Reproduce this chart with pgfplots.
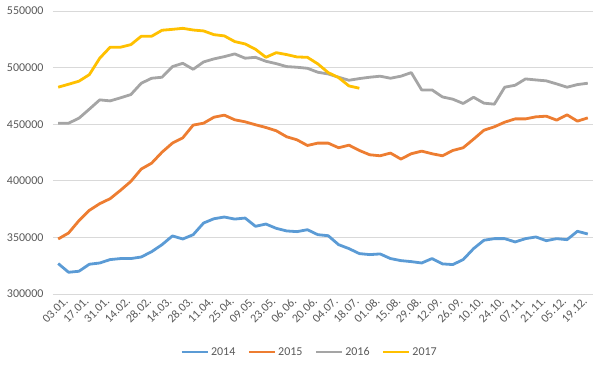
\documentclass[border=0pt]{standalone}
\usepackage{fontspec}
\setmainfont{Carlito}
\usepackage{pgfplots}
\pgfplotsset{compat=1.18}
\definecolor{c14}{HTML}{5B9BD5}
\definecolor{c15}{HTML}{ED7D31}
\definecolor{c16}{HTML}{A5A5A5}
\definecolor{c17}{HTML}{FFC000}
\definecolor{txt}{HTML}{595959}
\definecolor{gridc}{HTML}{D9D9D9}
\begin{document}
\begin{tikzpicture}[x=1pt,y=1pt]
\path[use as bounding box] (0,0) rectangle (600,368);
\begin{axis}[
  at={(53pt,74pt)}, anchor=south west,
  width=540pt, height=283pt, scale only axis,
  xmin=-0.5, xmax=51.5, ymin=300000, ymax=550000,
  scaled y ticks=false,
  ytick={300000,350000,400000,450000,500000,550000},
  yticklabels={300000,350000,400000,450000,500000,550000},
  xtick={0,2,4,6,8,10,12,14,16,18,20,22,24,26,28,30,32,34,36,38,40,42,44,46,48,50},
  xticklabels={03.01.,17.01.,31.01.,14.02.,28.02.,14.03.,28.03.,11.04.,25.04.,09.05.,23.05.,06.06.,20.06.,04.07.,18.07.,01.08.,15.08.,29.08.,12.09.,26.09.,10.10.,24.10.,07.11.,21.11.,05.12.,19.12.},
  axis line style={draw=none}, major tick length=0pt,
  ymajorgrids, grid style={color=gridc, line width=0.9pt},
  tick label style={font=\fontsize{12}{14}\selectfont, text=txt},
  yticklabel style={xshift=-6pt},
  xticklabel style={rotate=45, anchor=north east, inner sep=1pt, xshift=3pt, yshift=-4pt},
  legend style={at={(0.475,-0.205)}, anchor=center, draw=none, fill=none,
    font=\fontsize{12}{14}\selectfont, text=txt, inner sep=0pt,
    /tikz/every even column/.append style={column sep=10pt}},
  legend columns=-1,
  legend image code/.code={\draw[#1, line width=2.8pt] (0pt,0pt) -- (26pt,0pt);},
  every axis plot/.append style={line width=2.8pt, no marks, line join=round},
]
\addplot[c14] table[x expr=\coordindex, y=v] {
v
326900
319200
320100
326300
327400
330400
331300
331300
332700
337400
343600
351300
348600
352400
362700
366500
368000
366200
367100
359800
361800
358000
355700
355100
356800
352400
351500
343600
340100
335700
334800
335400
331300
329500
328600
327400
331300
326600
326000
330400
340100
347500
348900
348900
346000
348900
350400
347100
348900
348000
355400
353000
};
\addlegendentry{2014}
\addplot[c15] table[x expr=\coordindex, y=v] {
v
348600
353900
364800
373900
379800
384200
391600
399500
410400
415600
425300
433300
438000
449200
450900
456200
458000
453900
452100
449500
447100
444200
438900
436200
431200
433300
433300
429200
431500
426800
423000
422100
424500
419200
423900
426200
423900
422100
426800
429200
436800
444700
447700
451800
454700
454700
456500
457100
453600
458300
452700
455600
};
\addlegendentry{2015}
\addplot[c16] table[x expr=\coordindex, y=v] {
v
450900
450900
455300
463300
471500
470600
473300
476200
486200
490600
491500
500900
503800
498500
505000
507700
509700
512100
508300
509100
505600
503500
500900
500300
499400
495900
494400
491500
488800
490300
491500
492400
490600
492400
495600
480300
480300
474100
472100
468300
473800
468600
467700
482700
484400
490000
489100
488300
485600
482700
485000
486200
};
\addlegendentry{2016}
\addplot[c17] table[x expr=\coordindex, y=v] {
v
482700
485300
488000
493800
508300
518000
518000
520300
527700
527700
533000
533800
534700
533200
532400
529100
528000
523000
520900
516200
509100
513200
511500
509400
509100
503300
495600
491200
483800
481800
};
\addlegendentry{2017}
\end{axis}
\end{tikzpicture}
\end{document}
